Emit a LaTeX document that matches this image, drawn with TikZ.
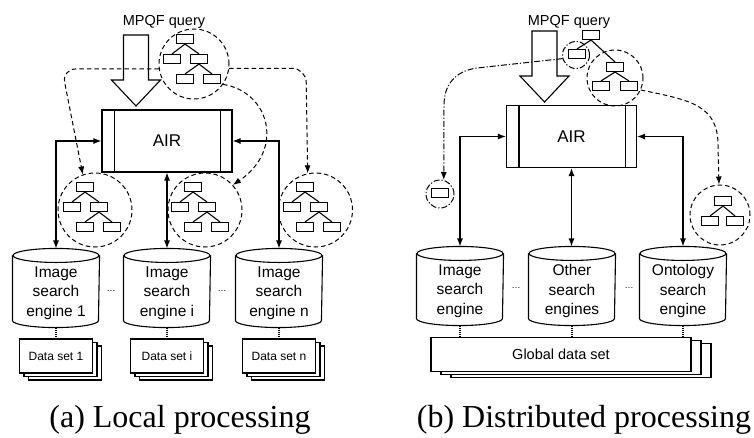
\documentclass[tikz,border=0pt]{standalone}
\usepackage{fontspec}
\setmainfont{Liberation Sans}
\newfontfamily\capfont{Liberation Serif}
\usetikzlibrary{arrows.meta,shadows}

\begin{document}
\begin{tikzpicture}[
    x=1pt, y=-1pt,
    line width=1.1pt,
    leaf/.style={
      draw,
      rectangle,
      minimum width=17pt,
      minimum height=9pt,
      inner sep=0pt
      },
    ring/.style={
      draw,
      circle,
      line width=1pt,
      dash pattern=on 4.5pt off 3pt,
      inner sep=0pt
      },
    dotring/.style={
      ring,
      dash pattern=on 6pt off 2pt on 1.2pt off 2pt
      },
    air/.style={
      draw,
      minimum width=130pt,
      minimum height=62pt,
      inner sep=0pt,
      font=\fontsize{17}{17}\selectfont
      },
    engine/.style={
      minimum width=86pt,
      minimum height=88pt,
      inner sep=0pt,
      align=center,
      font=\fontsize{15.5}{19.5}\selectfont
      },
    dataset/.style={
      draw,
      fill=white,
      minimum height=34pt,
      inner sep=0pt,
      font=\fontsize{12}{12}\selectfont
      },
    query/.style={
      font=\fontsize{14.5}{14.5}\selectfont
      },
    dots/.style={
      font=\fontsize{9}{9}\selectfont
      },
    caption/.style={
      font=\capfont\fontsize{32}{32}\selectfont
      },
    link/.style={
      densely dotted
      },
    dasharrow/.style={
      ->,
      line width=1pt,
      dash pattern=on 4.5pt off 3pt
      },
    dotarrow/.style={
      ->,
      line width=1pt,
      dash pattern=on 6pt off 2pt on 1.2pt off 2pt
      },
    >={Latex[length=8pt,width=6pt]}
    ]
    \useasboundingbox (0,0) rectangle (754,437);

    % (a) local processing
    \node[query] (qa) at (164,22) {MPQF query};
    \node[air] (aira) at (167,141) {AIR};
    \node[engine] (ea1) at (56,293) {Image\\search\\engine 1};
    \node[engine] (ea2) at (167,293) {Image\\search\\engine i};
    \node[engine] (ea3) at (279,293) {Image\\search\\engine n};
    \node[dots] (da1) at (111,291) {\ldots};
    \node[dots] (da2) at (222,291) {\ldots};
    \foreach \ai in {1,2,3}
      \draw[link] ([yshift=10pt]ea\ai.south) -- ++(0,12);
    \node[dataset, minimum width=73pt, double copy shadow={shadow xshift=4.5pt, shadow yshift=-3.5pt}] (ds1) at (56,356) {Data set 1};
    \node[dataset, minimum width=73pt, double copy shadow={shadow xshift=4.5pt, shadow yshift=-3.5pt}] (ds2) at (167,356) {Data set i};
    \node[dataset, minimum width=73pt, double copy shadow={shadow xshift=4.5pt, shadow yshift=-3.5pt}] (ds3) at (279,356) {Data set n};
    \node[caption] (capa) at (180,420) {(a) Local processing};

    % (b) distributed processing
    \node[query] (qb) at (569,22) {MPQF query};
    \node[air] (airb) at (571.5,136.5) {AIR};
    \node[engine] (eb1) at (460,291) {Image\\search\\engine};
    \node[engine] (eb2) at (572,291) {Other\\search\\engines};
    \node[engine] (eb3) at (683,291) {Ontology\\search\\engine};
    \node[dots] (db1) at (516,288) {\ldots};
    \node[dots] (db2) at (629,288) {\ldots};
    \node[dataset, minimum width=260pt, font=\fontsize{14.5}{14.5}\selectfont, double copy shadow={shadow xshift=10pt, shadow yshift=-3pt}] (gs) at (561,354.5) {Global data set};
    \foreach \ai in {1,2,3}
      \draw[link] ([yshift=10pt]eb\ai.south) -- (eb\ai.south |- gs.north);
    \node[caption] (capb) at (584,420) {(b) Distributed processing};

    % cylinders and AIR frames
    \foreach \n in {ea1,ea2,ea3,eb1,eb2,eb3}
    {\draw ([yshift=-7pt]\n.north) ellipse [x radius=43pt, y radius=7pt];
     \draw ([yshift=-7pt]\n.north west) -- ([yshift=17pt]\n.south west)
       arc [start angle=180, end angle=360, x radius=43pt, y radius=7pt]
       -- ([yshift=-7pt]\n.north east);
    }
    \foreach \b in {aira,airb}
    {\draw ([xshift=13pt]\b.north west) -- ([xshift=13pt]\b.south west);
     \draw ([xshift=-12pt]\b.north east) -- ([xshift=-12pt]\b.south east);
    }

    % query arrows
    \foreach \ax/\ay in {136/35,544.5/31}
      \draw (\ax-12.5,\ay) -- (\ax+12.5,\ay) -- (\ax+12.5,\ay+45) -- (\ax+24.5,\ay+45)
        -- (\ax,\ay+71) -- (\ax-24.5,\ay+45) -- (\ax-12.5,\ay+45) -- cycle;

    % query trees
    \foreach \tx/\ty/\tn in {185/39/ta,85/187/t1,193/187/t2,305/187/t3}
    {\node[leaf] (\tn-0) at (\tx,\ty) {};
     \node[leaf] (\tn-1) at (\tx-13,\ty+20) {};
     \node[leaf] (\tn-2) at (\tx+14,\ty+20) {};
     \node[leaf] (\tn-3) at (\tx,\ty+40) {};
     \node[leaf] (\tn-4) at (\tx+27,\ty+40) {};
     \draw (\tn-0.south) -- (\tn-1.north);
     \draw (\tn-0.south) -- (\tn-2.north);
     \draw (\tn-2.south) -- (\tn-3.north);
     \draw (\tn-2.south) -- (\tn-4.north);
    }
    \node[ring, minimum size=70pt] (tca) at (194,64) {};
    \node[ring, minimum size=74pt] (c1) at (95,210) {};
    \node[ring, minimum size=74pt] (c2) at (205,210) {};
    \node[ring, minimum size=74pt] (c3) at (315.5,210) {};

    \node[leaf] (tb0) at (591,35) {};
    \node[leaf] (tb1) at (577,54) {};
    \node[leaf] (tb2) at (615,67) {};
    \node[leaf] (tb3) at (601,86) {};
    \node[leaf] (tb4) at (629,86) {};
    \draw (tb0.south) -- (tb1.north);
    \draw (tb0.south) -- (tb2.north);
    \draw (tb2.south) -- (tb3.north);
    \draw (tb2.south) -- (tb4.north);
    \node[dotring, minimum size=27pt] (cc1) at (576,55) {};
    \node[ring, minimum size=56pt] (cc2) at (615,78) {};

    \node[leaf] (te) at (440,193) {};
    \node[dotring, minimum size=28pt] (csb) at (440,194) {};
    \node[leaf] (td0) at (723,201) {};
    \node[leaf] (td1) at (710,221) {};
    \node[leaf] (td2) at (735,221) {};
    \draw (td0.south) -- (td1.north);
    \draw (td0.south) -- (td2.north);
    \node[ring, minimum size=60pt] (cc3) at (720,215) {};

    % engine links
    \foreach \p in {a,b}
    {\draw[<->] (air\p.west) -| (e\p1.north);
     \draw[<->] (air\p.south) -- (air\p.south |- e\p2.north);
     \draw[<->] (air\p.east) -| (e\p3.north);
    }

    % sub-query dispatch
    \draw[dasharrow, rounded corners=14pt] (tca.188) -- (62,68.9) -- (c1.109);
    \draw[dasharrow] (tca.-35) .. controls (270,92) and (285,150) .. (c2.42);
    \draw[dasharrow, rounded corners=14pt] (tca.-7) -- (306,68.3) -- (c3.102);
    \draw[dotarrow] (cc1.195) -- (477,68) .. controls (455,71) and (444,85) .. (444,105) -- (csb.75);
    \draw[dasharrow] (cc2.-25) .. controls (690,100) and (718,105) .. (718,145) -- (cc3.92);
\end{tikzpicture}
\end{document}
